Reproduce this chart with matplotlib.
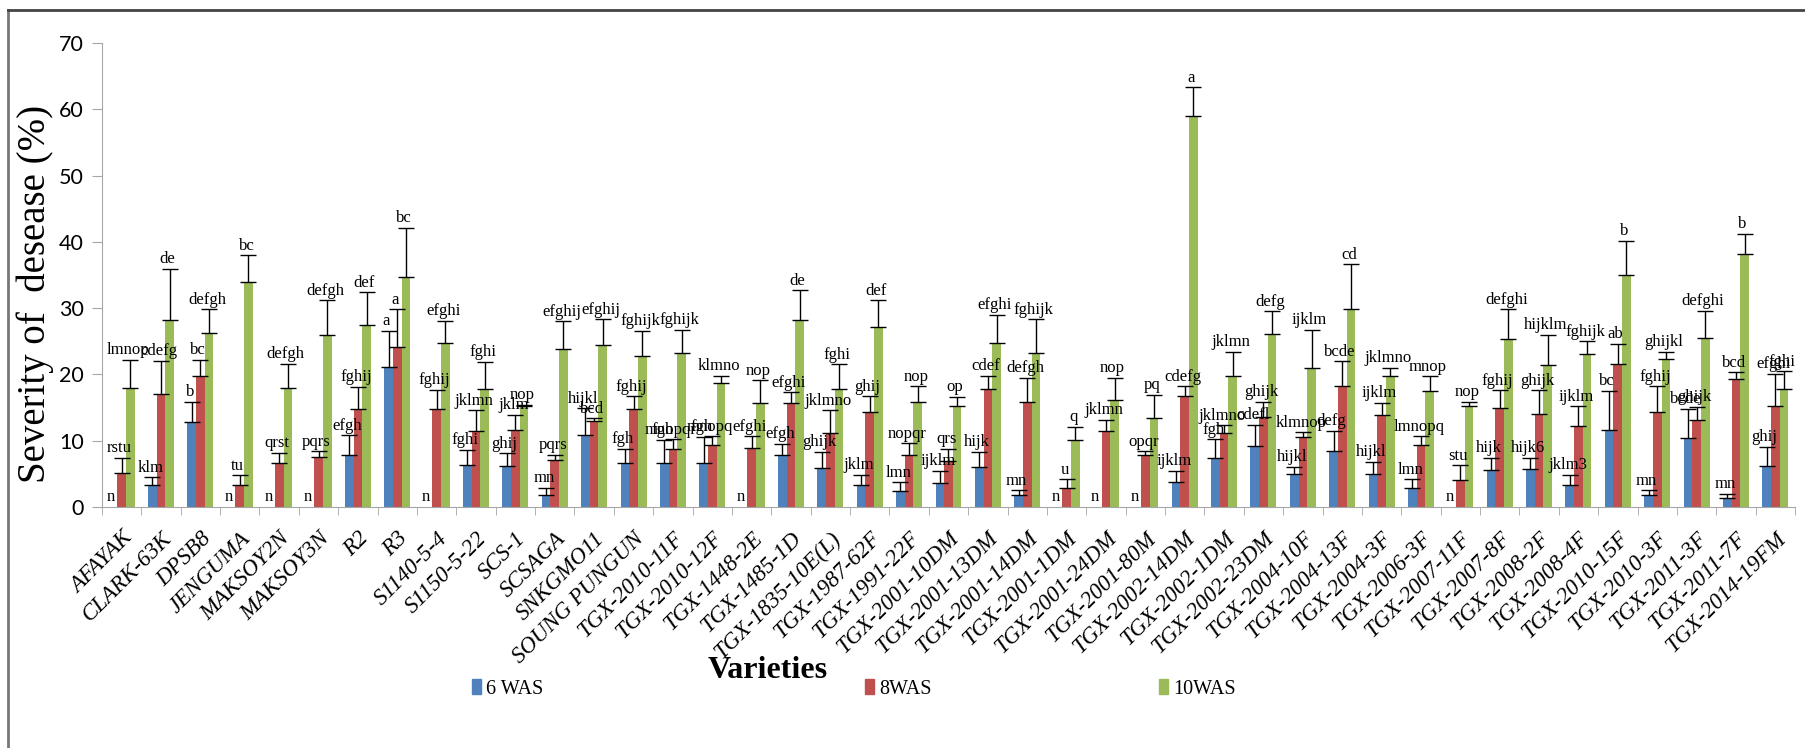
import matplotlib.pyplot as plt
import matplotlib.transforms as mtransforms
import numpy as np
from matplotlib.lines import Line2D
from matplotlib.patches import Patch

varieties = ['AFAYAK', 'CLARK-63K', 'DPSB8', 'JENGUMA', 'MAKSOY2N', 'MAKSOY3N',
             'R2', 'R3', 'S1140-5-4', 'S1150-5-22', 'SCS-1', 'SCSAGA', 'SNKGMO11',
             'SOUNG PUNGUN', 'TGX-2010-11F', 'TGX-2010-12F', 'TGX-1448-2E',
             'TGX-1485-1D', 'TGX-1835-10E(L)', 'TGX-1987-62F', 'TGX-1991-22F',
             'TGX-2001-10DM', 'TGX-2001-13DM', 'TGX-2001-14DM', 'TGX-2001-1DM',
             'TGX-2001-24DM', 'TGX-2001-80M', 'TGX-2002-14DM', 'TGX-2002-1DM',
             'TGX-2002-23DM', 'TGX-2004-10F', 'TGX-2004-13F', 'TGX-2004-3F',
             'TGX-2006-3F', 'TGX-2007-11F', 'TGX-2007-8F', 'TGX-2008-2F',
             'TGX-2008-4F', 'TGX-2010-15F', 'TGX-2010-3F', 'TGX-2011-3F',
             'TGX-2011-7F', 'TGX-2014-19FM']

# severity (%) at 6, 8 and 10 weeks after sowing, with upper error
was6 = [0, 3.3, 12.8, 0, 0, 0, 7.9, 21.1, 0, 6.4, 6.2, 1.8, 10.9, 6.7, 6.7, 6.7,
        0, 7.9, 5.9, 3.3, 2.4, 3.6, 6.0, 1.8, 0, 0, 0, 3.8, 7.4, 9.2, 5.0, 8.5,
        5.0, 2.8, 0, 5.6, 5.7, 3.3, 11.6, 1.8, 10.4, 1.4, 6.2]
was6_err = [0, 1.2, 3.1, 0, 0, 0, 2.9, 5.5, 0, 2.2, 1.9, 1.1, 4.0, 2.1, 3.4, 3.9,
            0, 1.6, 2.4, 1.6, 1.3, 1.9, 2.3, 0.7, 0, 0, 0, 1.7, 2.8, 3.2, 1.1, 3.0,
            1.8, 1.4, 0, 1.8, 1.7, 1.6, 5.9, 0.7, 4.4, 0.6, 2.9]
was6_grp = ['n', 'klm', 'b', 'n', 'n', 'n', 'efgh', 'a', 'n', 'fghi', 'ghij', 'mn',
            'hijkl', 'fgh', 'fgh', 'fgh', 'n', 'efgh', 'ghijk', 'jklm', 'lmn',
            'ijklm', 'hijk', 'mn', 'n', 'n', 'n', 'ijklm', 'fgh', 'cdefl', 'hijkl',
            'defg', 'hijkl', 'lmn', 'n', 'hijk', 'hijk6', 'jklm3', 'bc', 'mn',
            'bcde', 'mn', 'ghij']

was8 = [5.2, 17.0, 19.7, 3.3, 6.7, 7.5, 14.8, 24.1, 14.8, 11.4, 11.6, 7.1, 12.9,
        14.8, 8.7, 9.4, 8.9, 15.7, 11.2, 14.3, 7.9, 7.0, 17.8, 15.8, 2.9, 11.4,
        7.9, 16.7, 11.2, 13.6, 10.6, 18.3, 13.9, 9.4, 4.1, 15.0, 14.1, 12.2,
        21.6, 14.4, 13.1, 19.3, 15.3]
was8_err = [2.2, 5.1, 2.5, 1.5, 1.5, 0.9, 3.3, 5.7, 2.9, 3.2, 2.3, 0.8, 0.5, 1.9,
            1.5, 1.3, 1.8, 1.6, 3.4, 2.4, 1.7, 1.8, 2.0, 3.7, 1.3, 1.8, 0.5, 1.5,
            1.1, 2.3, 0.7, 3.7, 1.8, 1.3, 2.2, 2.6, 3.5, 3.0, 3.0, 3.8, 2.0, 1.0,
            4.8]
was8_grp = ['rstu', 'cdefg', 'bc', 'tu', 'qrst', 'pqrs', 'fghij', 'a', 'fghij',
            'jklmn', 'jklm', 'pqrs', 'bcd', 'fghij', 'mnopqr', 'mnopq', 'efghi',
            'efghi', 'jklmno', 'ghij', 'nopqr', 'qrs', 'cdef', 'defgh', 'u',
            'jklmn', 'opqr', 'cdefg', 'jklmno', 'ghijk', 'klmnop', 'bcde', 'ijklm',
            'lmnopq', 'stu', 'fghij', 'ghijk', 'ijklm', 'ab', 'fghij', 'ghijk',
            'bcd', 'efghi']

was10 = [18.0, 28.2, 26.2, 33.9, 18.0, 25.9, 27.5, 34.7, 24.7, 17.8, 15.2, 23.8,
         24.5, 22.8, 23.3, 18.7, 15.7, 28.2, 17.8, 27.2, 15.8, 15.2, 24.8, 23.3,
         10.1, 16.2, 13.5, 59.0, 19.8, 26.1, 20.9, 29.9, 19.7, 17.5, 15.2, 25.3,
         21.4, 23.1, 35.0, 22.4, 25.5, 38.2, 17.8]
was10_err = [4.2, 7.7, 3.6, 4.1, 3.6, 5.3, 4.9, 7.4, 3.4, 4.1, 0.2, 4.2, 3.8, 3.8,
             3.4, 1.1, 3.4, 4.5, 3.7, 4.0, 2.4, 1.4, 4.2, 5.0, 2.0, 3.3, 3.4, 4.3,
             3.6, 3.4, 5.8, 6.7, 1.3, 2.2, 0.7, 4.5, 4.6, 1.9, 5.2, 1.0, 4.1, 3.0,
             2.7]
was10_grp = ['lmnop', 'de', 'defgh', 'bc', 'defgh', 'defgh', 'def', 'bc', 'efghi',
             'fghi', 'nop', 'efghij', 'efghij', 'fghijk', 'fghijk', 'klmno', 'nop',
             'de', 'fghi', 'def', 'nop', 'op', 'efghi', 'fghijk', 'q', 'nop', 'pq',
             'a', 'jklmn', 'defg', 'ijklm', 'cd', 'jklmno', 'mnop', 'nop', 'defghi',
             'hijklm', 'fghijk', 'b', 'ghijkl', 'defghi', 'b', 'fghi']

W, H = 1806, 748
fig = plt.figure(figsize=(W / 100, H / 100), dpi=100)
ax = fig.add_axes([102 / W, 1 - 507 / H, (1795 - 102) / W, (507 - 43) / H])

serif = 'Liberation Serif'
x = np.arange(len(varieties))
w = 0.22
series = [
    (was6, was6_err, was6_grp, '#4F81BD', '6 WAS', -w),
    (was8, was8_err, was8_grp, '#C0504D', '8WAS', 0),
    (was10, was10_err, was10_grp, '#9BBB59', '10WAS', w),
]

for vals, err, grp, col, name, off in series:
    vals = np.array(vals)
    err = np.array(err)
    ax.bar(x + off, vals, w, color=col, label=name, zorder=2)
    m = vals > 0
    ax.errorbar(x[m] + off, vals[m], yerr=[np.zeros(m.sum()), err[m]], fmt='none',
                ecolor='black', elinewidth=1, capsize=5.5, capthick=1, zorder=3)
    for xi, v, e, g in zip(x + off, vals, err, grp):
        ax.annotate(g, (xi, v + e), xytext=(-1.5, 4), textcoords='offset points',
                    ha='center', va='baseline', fontsize=12, family=serif, zorder=4)

ax.set_xlim(-0.5, len(varieties) - 0.5)
ax.set_ylim(0, 70)
ax.set_yticks(range(0, 71, 10))
for lab in ax.get_yticklabels():
    lab.set_family('Lato')
    lab.set_fontsize(15.5)
ax.set_xticks(x)
ax.set_xticklabels(varieties, rotation=45, ha='right', va='top',
                   rotation_mode='anchor', family=serif, style='italic', fontsize=16.5)
shift = mtransforms.ScaledTranslation(5 / 100, 0, fig.dpi_scale_trans)
for lab in ax.get_xticklabels():
    lab.set_transform(lab.get_transform() + shift)
ax.set_xticks(np.arange(-0.5, len(varieties), 1), minor=True)
ax.tick_params(axis='x', which='major', length=0, pad=15)
ax.tick_params(axis='x', which='minor', length=6, color='#A6A6A6')
ax.tick_params(axis='y', length=7, color='#A6A6A6', pad=6)
for s in ['top', 'right']:
    ax.spines[s].set_visible(False)
for s in ['left', 'bottom']:
    ax.spines[s].set_color('#A6A6A6')

fig.text(35 / W, 1 - 294 / H, 'Severity of  desease (%)', rotation=90,
         ha='center', va='center', family=serif, fontsize=28)
fig.text(768 / W, 1 - 670 / H, 'Varieties', ha='center', va='center',
         family=serif, fontweight='bold', fontsize=23)

# legend entries are spread out along one row
for (vals, err, grp, col, name, off), lx in zip(series, [462, 855, 1149]):
    fig.legend([Patch(color=col)], [name], loc='center left',
               bbox_to_anchor=(lx / W, 1 - 689 / H), frameon=False,
               handlelength=0.45, handleheight=0.75, handletextpad=0.25,
               borderpad=0, prop={'family': serif, 'size': 14.5})

# outer frame
fig.add_artist(Line2D([8 / W, 8 / W], [0, 1 - 10 / H], transform=fig.transFigure,
                      color='#777777', lw=2))
fig.add_artist(Line2D([8 / W, 1], [1 - 10 / H, 1 - 10 / H], transform=fig.transFigure,
                      color='#444444', lw=2))

fig.savefig('out.png', dpi=100)
